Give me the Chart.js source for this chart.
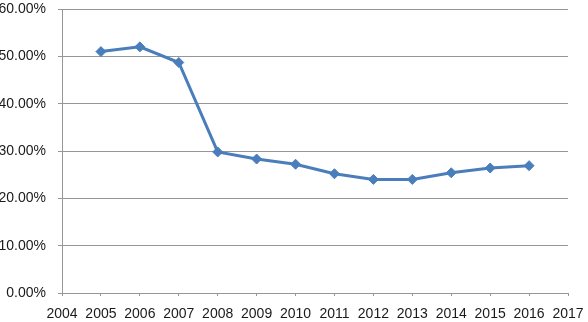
<!DOCTYPE html>
<html>
<head>
<meta charset="utf-8">
<script src="https://cdn.jsdelivr.net/npm/chart.js@4/dist/chart.umd.min.js"></script>
<style>
  html, body { margin: 0; padding: 0; background: #fff; }
  #wrap { width: 588px; height: 322px; }
</style>
</head>
<body>
<div id="wrap"><canvas id="rateChart" width="588" height="322"></canvas></div>
<script>
const years = [2005, 2006, 2007, 2008, 2009, 2010, 2011, 2012, 2013, 2014, 2015, 2016];
const rates = [51.0, 52.0, 48.7, 29.8, 28.3, 27.2, 25.2, 24.0, 24.0, 25.4, 26.4, 26.9];
const xMin = 2004, xMax = 2017;
const yMax = 60, yStep = 10;

(function () {
  const ctx = document.getElementById("rateChart");
  const lineColor = "#4a7ebb";
  const gridColor = "#969696";

  new Chart(ctx, {
    type: "line",
    data: {
      datasets: [
        {
          data: years.map((y, i) => ({ x: y, y: rates[i] })),
          borderColor: lineColor,
          backgroundColor: lineColor,
          borderWidth: 3,
          pointStyle: "rectRot",
          pointRadius: 5,
          pointBorderWidth: 1,
          tension: 0,
        },
      ],
    },
    options: {
      responsive: false,
      animation: false,
      layout: { padding: 0 },
      plugins: { legend: { display: false }, tooltip: { enabled: false } },
      scales: {
        x: {
          type: "linear",
          min: xMin,
          max: xMax,
          ticks: {
            stepSize: 1,
            autoSkip: false,
            maxRotation: 0,
            minRotation: 0,
            color: "#1a1a1a",
            padding: 10,
            font: { family: "Liberation Sans", size: 14 },
            callback: (v) => String(v),
          },
          grid: { drawOnChartArea: false, drawTicks: true, tickLength: 3, color: gridColor },
          border: { color: gridColor },
          afterFit: (s) => {
            s.height = 29;
            s.paddingLeft = 0;
            s.paddingRight = 20;
          },
        },
        y: {
          min: 0,
          max: yMax,
          ticks: {
            stepSize: yStep,
            color: "#1a1a1a",
            padding: 12,
            font: { family: "Liberation Sans", size: 14 },
            callback: (v) => v.toFixed(2) + "%",
          },
          grid: { color: gridColor, tickLength: 4 },
          border: { color: gridColor },
          afterFit: (s) => {
            s.width = 62;
            s.paddingTop = 9;
            s.paddingBottom = 0;
          },
        },
      },
    },
  });
})();
</script>
</body>
</html>
